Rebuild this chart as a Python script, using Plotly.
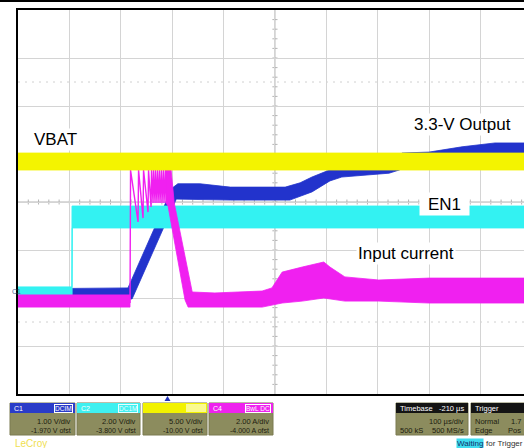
import plotly.graph_objects as go

W, H = 524, 448
ML, MR, MT, MB = 18, 0, 10, 54
PW = W - ML - MR
PH = H - MT - MB


def px(x):
    return (x - ML) / PW


def py(y):
    return (H - MB - y) / PH


# ---------------- scope settings (from the descriptor boxes) ----------------
TIME_PER_DIV = 100.0          # µs/div
TIME_RANGE = [-290.0, 694.6]  # visible part of the 10-div screen (trigger delay -210 µs)
N_VDIV = 8
CH_SCALE = {"C1": 1.00, "C2": 2.00, "C3": 5.00, "C4": 2.00}
CH_OFFSET = {"C1": -1.970, "C2": -3.800, "C3": -10.00, "C4": -4.000}
CH_UNIT = {"C1": "V", "C2": "V", "C3": "V", "C4": "A"}
CH_COLOR = {"C1": "#2233cc", "C2": "#33f2f2", "C3": "#f4f400", "C4": "#f020f0"}


def ch_range(ch):
    c = -CH_OFFSET[ch]
    h = CH_SCALE[ch] * N_VDIV / 2
    return [c - h, c + h]


# ---------------- traces (envelopes of the noisy scope traces) ----------------
# C3 : VBAT (yellow), volts
vbat_t_hi = [-290, 695]
vbat_hi = [15.10, 15.10]
vbat_t_lo = [-290, 695]
vbat_lo = [13.33, 13.33]

# C2 : EN1 (cyan), volts
en1_t_hi = [-290, -185.2, -184.8, 695]
en1_hi = [0.26, 0.26, 3.63, 3.63]
en1_t_lo = [-290, -184.8, -184.4, 695]
en1_lo = [-0.16, -0.16, 2.72, 2.72]

# C1 : 3.3-V output (blue), volts
out_t_hi = [-290, -76, 10, 21, 64, 123, 230, 259, 282, 317, 340, 432, 453, 457, 510, 574, 638, 695]
out_hi = [0.16, 0.18, 2.26, 2.35, 2.35, 2.28, 2.28, 2.37, 2.49, 2.64, 2.70, 2.70, 2.85, 2.99, 3.01, 3.12, 3.20, 3.20]
out_t_lo = [-290, -68, 18, 123, 239, 282, 317, 340, 379, 432, 453, 473, 510, 574, 638, 695]
out_lo = [-0.03, -0.05, 2.03, 2.01, 2.01, 2.18, 2.41, 2.49, 2.53, 2.57, 2.64, 2.89, 2.91, 2.91, 2.95, 2.95]

# C4 : input current (magenta), amps
iin_pre_t = [-290, -72]
iin_pre_hi = [0.13, 0.13]
iin_pre_lo = [-0.38, -0.38]
iin_spk_t = [-72, -71, -56.4, -55.4, -46.7, -45.7, -37.0, -36.0, -31.1, -30.2, -27.2, -26.3,
             -23.3, -22.4, -19.5, -18.5, -15.6, -14.6, -11.7, -10.7, -7.8, -6.8, -3.9, -2.9, 0.0]
iin_spk = [-0.21, 5.33, 3.17, 5.33, 3.33, 5.33, 3.58, 5.33, 3.79, 5.33, 3.96, 5.33,
           3.96, 5.33, 3.96, 5.33, 3.96, 5.33, 3.96, 5.33, 3.96, 5.33, 3.96, 5.33, 3.96]
iin_t_hi = [-2, 8, 14, 49, 93, 185, 204, 224, 263, 305, 317, 346, 412, 510, 695]
iin_hi = [5.33, 5.33, 3.96, 0.25, 0.21, 0.29, 0.42, 1.08, 1.29, 1.50, 1.29, 0.88, 0.75, 0.83, 0.83]
iin_t_lo = [-2, 2, 35, 41, 185, 224, 263, 305, 346, 412, 510, 695]
iin_lo = [3.96, 3.83, -0.08, -0.38, -0.38, -0.21, -0.13, 0.0, -0.13, -0.13, -0.21, -0.21]

fig = go.Figure()


def band(t_hi, v_hi, t_lo, v_lo, color, yaxis, lw=0.8):
    fig.add_trace(go.Scatter(
        x=list(t_hi) + list(t_lo)[::-1],
        y=list(v_hi) + list(v_lo)[::-1],
        mode="lines", fill="toself", fillcolor=color,
        line=dict(color=color, width=lw), yaxis=yaxis,
        hoverinfo="skip", showlegend=False))


# drawing order C1, C2, C4, C3 (yellow on top)
band(out_t_hi, out_hi, out_t_lo, out_lo, CH_COLOR["C1"], "y")
band(en1_t_hi, en1_hi, en1_t_lo, en1_lo, CH_COLOR["C2"], "y2", lw=1)
band(iin_pre_t, iin_pre_hi, iin_pre_t, iin_pre_lo, CH_COLOR["C4"], "y3")
fig.add_trace(go.Scatter(x=iin_spk_t, y=iin_spk, mode="lines",
                         line=dict(color=CH_COLOR["C4"], width=1.4), yaxis="y3",
                         hoverinfo="skip", showlegend=False))
band(iin_t_hi, iin_hi, iin_t_lo, iin_lo, CH_COLOR["C4"], "y3")
band(vbat_t_hi, vbat_hi, vbat_t_lo, vbat_lo, CH_COLOR["C3"], "y4")

# ---------------- shapes: graticule details & bottom panel ----------------
shapes = []
r1 = ch_range("C1")
t_center = TIME_RANGE[0] + 5 * TIME_PER_DIV
v_center = (r1[0] + r1[1]) / 2
GRAY = "#b4b4b4"

# centre cross with small ticks
shapes.append(dict(type="line", xref="x", yref="y", x0=t_center, x1=t_center, y0=r1[0], y1=r1[1],
                   line=dict(color=GRAY, width=1), layer="below"))
shapes.append(dict(type="line", xref="x", yref="y", x0=TIME_RANGE[0], x1=TIME_RANGE[1],
                   y0=v_center, y1=v_center, line=dict(color=GRAY, width=1), layer="below"))
k = 1
while TIME_RANGE[0] + k * TIME_PER_DIV / 5 < TIME_RANGE[1]:
    tt = TIME_RANGE[0] + k * TIME_PER_DIV / 5
    shapes.append(dict(type="line", xref="x", yref="paper", x0=tt, x1=tt,
                       y0=0.5 - 2.5 / PH, y1=0.5 + 2.5 / PH, line=dict(color=GRAY, width=1), layer="below"))
    k += 1
for k in range(1, N_VDIV * 5):
    vv = r1[0] + k * CH_SCALE["C1"] / 5
    shapes.append(dict(type="line", xref="x", yref="y", x0=t_center - 5, x1=t_center + 5,
                       y0=vv, y1=vv, line=dict(color=GRAY, width=1), layer="below"))

# faint dotted level lines
for lv in (v_center + 2.5, v_center - 2.5):
    shapes.append(dict(type="line", xref="paper", yref="y", x0=0, x1=1, y0=lv, y1=lv,
                       line=dict(color="#d0d0d0", width=1, dash="2px,5px"), layer="below"))

# top black rule of the screenshot
shapes.append(dict(type="line", xref="paper", yref="paper", x0=px(0), x1=px(W), y0=py(1), y1=py(1),
                   line=dict(color="black", width=2)))

# trigger position marker
shapes.append(dict(type="path", xref="paper", yref="paper",
                   path=f"M {px(164.5)} {py(401)} L {px(170.5)} {py(401)} L {px(167.5)} {py(396)} Z",
                   fillcolor="#2233bb", line=dict(width=0)))

OLIVE = "#8c8c5e"
BOX_TOP, HDR_BOT, BOX_BOT = 403, 413, 435
HDR_Y, ROW1_Y, ROW2_Y = 408, 421, 430


def rect(x0, y0, x1, y1, fill, lw=0, lc=None):
    shapes.append(dict(type="rect", xref="paper", yref="paper", x0=px(x0), x1=px(x1),
                       y0=py(y1), y1=py(y0), fillcolor=fill,
                       line=dict(width=lw, color=lc or fill)))


annotations = []
SANS = "Liberation Sans, Arial"


def text(x, y, s, size=7.5, color="#1c1c10", anchor="left", bg=None, family=SANS, **kw):
    d = dict(xref="paper", yref="paper", x=px(x), y=py(y), text=s, showarrow=False,
             xanchor=anchor, yanchor="middle",
             font=dict(size=size, color=color, family=family))
    if bg:
        d["bgcolor"] = bg
    d.update(kw)
    annotations.append(d)


boxes = [
    ("C1", 10, 75, "DCIM", "#2a3cc8", "white"),
    ("C2", 77, 140, "DC1M", "#3ff0f0", "#e8ffff"),
    ("C3", 143, 207, "", "#f2f200", "#fafa90"),
    ("C4", 209, 273, "BwL DC", "#ee22ee", "white"),
]
for ch, x0, x1, tag, hcol, tcol in boxes:
    rect(x0, BOX_TOP, x1, BOX_BOT, OLIVE, lw=1, lc="#7a7a50")
    rect(x0, BOX_TOP, x1, HDR_BOT, hcol)
    if ch != "C3":
        text(x0 + 2, HDR_Y, ch, size=7, color="white")
    else:
        rect(x1 - 21, BOX_TOP + 1, x1 - 1, HDR_BOT - 1, "#fafa90")
    if tag:
        text(x1 - 2, HDR_Y, tag, size=6.5, color=tcol, anchor="right",
             bordercolor=tcol, borderwidth=1, borderpad=0)
    sc = CH_SCALE[ch]
    un = CH_UNIT[ch]
    of = CH_OFFSET[ch]
    text(x1 - 2, ROW1_Y, f"{sc:.2f} {un}/div", anchor="right")
    of_s = f"{of:.3f}" if abs(of) < 10 else f"{of:.2f}"
    text(x1 - 2, ROW2_Y, f"{of_s} {un} ofst", size=7, anchor="right")

# timebase / trigger boxes
rect(396, BOX_TOP, 468, BOX_BOT, OLIVE, lw=1, lc="#7a7a50")
rect(396, BOX_TOP, 468, HDR_BOT, "#141414")
text(398, HDR_Y, "Timebase", color="white")
text(466, HDR_Y, f"{-210} µs", color="white", anchor="right")
text(466, ROW1_Y, f"{TIME_PER_DIV:.0f} µs/div", anchor="right")
text(398, ROW2_Y, "500 kS")
text(466, ROW2_Y, "500 MS/s", anchor="right")

rect(471, BOX_TOP, 545, BOX_BOT, OLIVE, lw=1, lc="#7a7a50")
rect(471, BOX_TOP, 545, HDR_BOT, "#141414")
text(473, HDR_Y, "Trigger", color="white")
text(473, ROW1_Y, "Normal")
text(523, ROW1_Y, "1.7", anchor="right")
text(473, ROW2_Y, "Edge")
text(523, ROW2_Y, "Pos", anchor="right")

text(456, 443, "Waiting", size=8, color="#10306a", bg="#3fdcef", borderpad=0)
text(484, 443, "for Trigger", size=8, color="#303030")
text(13, 443, "LeCroy", size=10, color="#f0e050")
text(10, 291, "C1", size=7, color="#4a6a9a")

# trace labels
LBL = dict(size=17, color="black", family=SANS)
annotations += [
    dict(xref="paper", yref="paper", x=px(55), y=py(139), text="VBAT", showarrow=False,
         font=LBL, bgcolor="white", xanchor="center", yanchor="middle"),
    dict(xref="paper", yref="paper", x=px(462), y=py(125), text="3.3-V Output", showarrow=False,
         font=LBL, bgcolor="white", xanchor="center", yanchor="middle"),
    dict(xref="paper", yref="paper", x=px(444.5), y=py(204), text="EN1", showarrow=False,
         font=LBL, bgcolor="white", xanchor="center", yanchor="middle", width=47, height=20, borderpad=1),
    dict(xref="paper", yref="paper", x=px(406), y=py(253), text="Input current", showarrow=False,
         font=LBL, bgcolor="white", xanchor="center", yanchor="middle"),
]

GRID = "#d4d4d4"
fig.update_layout(
    width=W, height=H,
    margin=dict(l=ML, r=MR, t=MT, b=MB, pad=0),
    paper_bgcolor="white", plot_bgcolor="white",
    showlegend=False,
    shapes=shapes, annotations=annotations,
    xaxis=dict(range=TIME_RANGE, tick0=TIME_RANGE[0], dtick=TIME_PER_DIV, showgrid=True,
               gridcolor=GRID, gridwidth=1, showticklabels=False, ticks="", zeroline=False,
               showline=True, linecolor="black", linewidth=2, mirror=True, fixedrange=True),
    yaxis=dict(range=r1, tick0=r1[0], dtick=CH_SCALE["C1"], showgrid=True, gridcolor=GRID,
               gridwidth=1, showticklabels=False, ticks="", zeroline=False,
               showline=True, linecolor="black", linewidth=2, mirror=False, fixedrange=True),
    yaxis2=dict(range=ch_range("C2"), overlaying="y", visible=False, fixedrange=True),
    yaxis3=dict(range=ch_range("C4"), overlaying="y", visible=False, fixedrange=True),
    yaxis4=dict(range=ch_range("C3"), overlaying="y", visible=False, fixedrange=True),
)

fig.write_html("out.html", config={"displayModeBar": False, "staticPlot": True},
               post_script="document.body.style.margin='0px';")
